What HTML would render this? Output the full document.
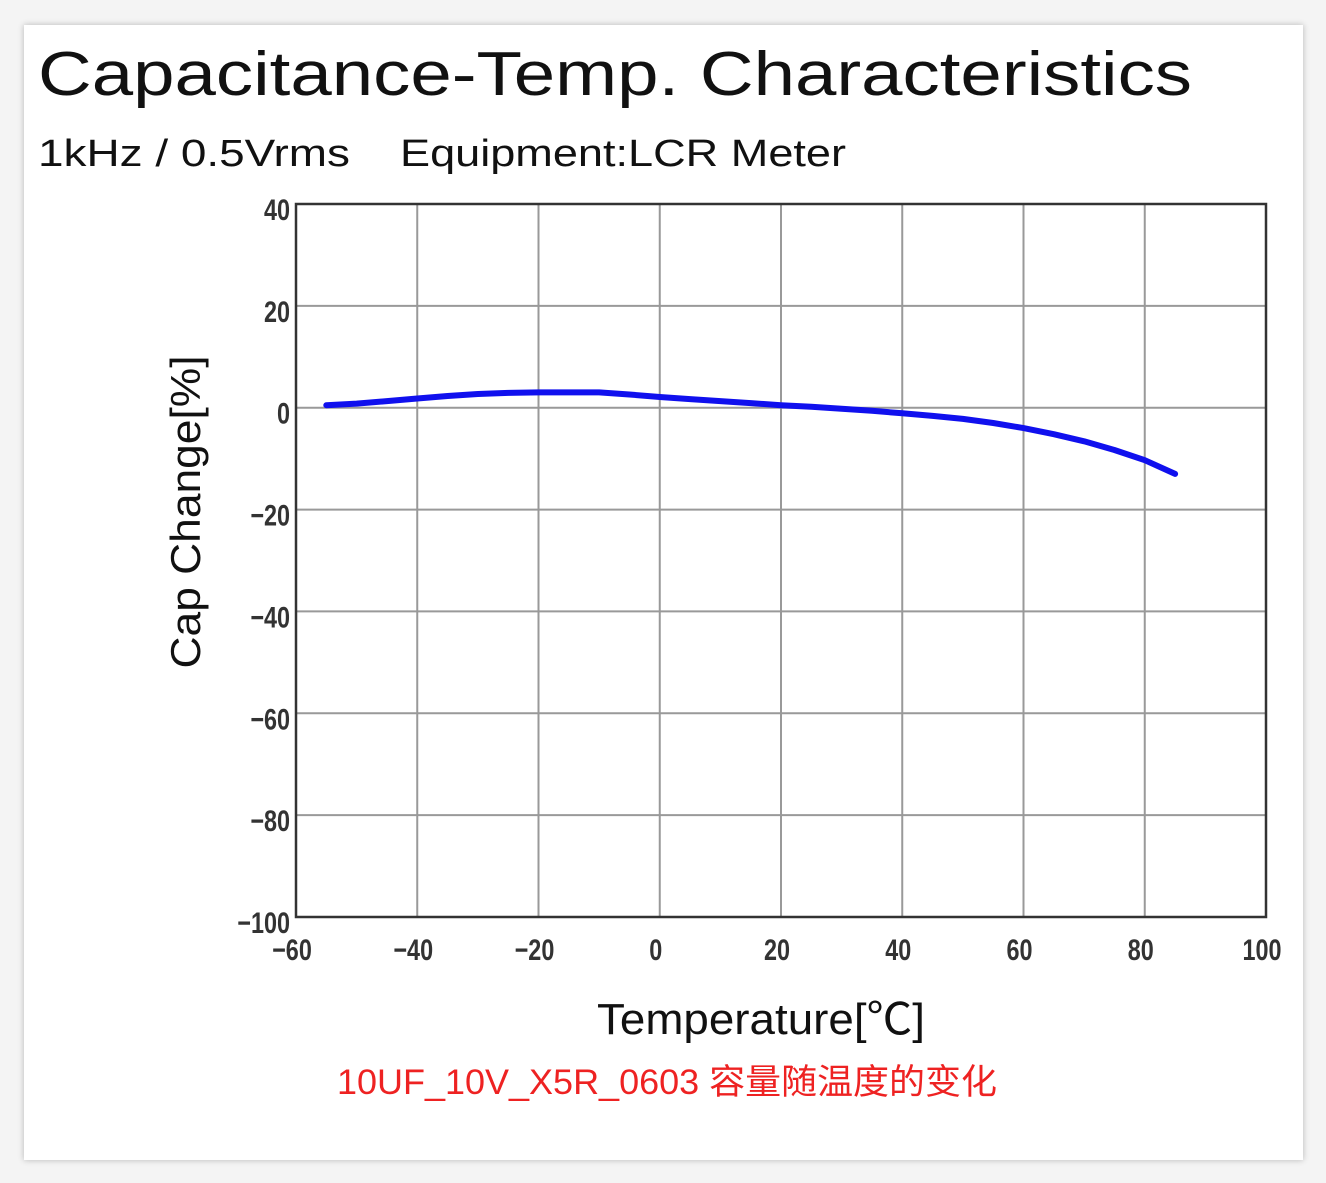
<!DOCTYPE html>
<html><head><meta charset="utf-8"><style>
html,body{margin:0;padding:0;background:#f4f4f4;}
body{width:1326px;height:1183px;position:relative;overflow:hidden;font-family:"Liberation Sans","Noto Sans CJK SC",sans-serif;}
#card{position:absolute;left:24px;top:25px;width:1279px;height:1135px;background:#fff;box-shadow:0 0 6px rgba(0,0,0,0.25);}
</style></head><body>
<div id="card"></div>
<svg id="chart" width="1326" height="1183" style="position:absolute;left:0;top:0">
<text x="38" y="95" font-size="62" fill="#111" textLength="1154" lengthAdjust="spacingAndGlyphs">Capacitance-Temp. Characteristics</text>
<text x="38" y="166" font-size="38" fill="#111" textLength="312" lengthAdjust="spacingAndGlyphs">1kHz / 0.5Vrms</text>
<text x="400" y="166" font-size="38" fill="#111" textLength="446" lengthAdjust="spacingAndGlyphs">Equipment:LCR Meter</text>
<g id="grid"></g>
<g id="ticks"></g>
<path id="curve" fill="none" stroke="#1010ee" stroke-width="6" stroke-linejoin="round" stroke-linecap="round"></path>
<rect x="296" y="204" width="970" height="713" fill="none" stroke="#333" stroke-width="2.5"></rect>
<text transform="translate(200,512) rotate(-90)" text-anchor="middle" font-size="42" fill="#111" textLength="313" lengthAdjust="spacingAndGlyphs">Cap Change[%]</text>
<text x="761" y="1034" text-anchor="middle" font-size="44" fill="#111" textLength="328" lengthAdjust="spacingAndGlyphs">Temperature[℃]</text>
<text x="667" y="1094" text-anchor="middle" font-size="35" fill="#ee2222" textLength="660" lengthAdjust="spacingAndGlyphs">10UF_10V_X5R_0603 容量随温度的变化</text>
</svg>
<script>
const xTicks=[-60,-40,-20,0,20,40,60,80,100];
const yTicks=[40,20,0,-20,-40,-60,-80,-100];
const temps=[-55,-50,-45,-40,-35,-30,-25,-20,-15,-10,-5,0,5,10,15,20,25,30,35,40,45,50,55,60,65,70,75,80,85];
const capChange=[0.5,0.8,1.3,1.8,2.3,2.7,2.9,3.0,3.0,3.0,2.6,2.1,1.7,1.3,0.9,0.5,0.2,-0.2,-0.6,-1.1,-1.6,-2.2,-3.0,-4.0,-5.2,-6.6,-8.3,-10.3,-13.0];
const L=296,R=1266,T=204,B=917;
const sx=v=>L+(v+60)/160*(R-L);
const sy=v=>T+(40-v)/140*(B-T);
const NS="http://www.w3.org/2000/svg";
const grid=document.getElementById('grid'),ticks=document.getElementById('ticks');
xTicks.forEach(v=>{
 const l=document.createElementNS(NS,'line');
 l.setAttribute('x1',sx(v));l.setAttribute('x2',sx(v));l.setAttribute('y1',T);l.setAttribute('y2',B);
 l.setAttribute('stroke','#999');l.setAttribute('stroke-width','2');
 
 
 grid.appendChild(l);
 const t=document.createElementNS(NS,'text');
 t.setAttribute('x',sx(v)-4);t.setAttribute('y',960);t.setAttribute('text-anchor','middle');
 t.setAttribute('font-size','30');t.setAttribute('fill','#333');t.setAttribute('font-weight','bold');
 t.setAttribute('transform','translate('+(sx(v)-4)+',0) scale(0.78,1) translate('+(-(sx(v)-4))+',0)');
 t.textContent=(v<0?'−':'')+Math.abs(v);
 
 
 ticks.appendChild(t);
});
yTicks.forEach(v=>{
 const l=document.createElementNS(NS,'line');
 l.setAttribute('x1',L);l.setAttribute('x2',R);l.setAttribute('y1',sy(v));l.setAttribute('y2',sy(v));
 l.setAttribute('stroke','#999');l.setAttribute('stroke-width','2');
 
 
 grid.appendChild(l);
 const t=document.createElementNS(NS,'text');
 t.setAttribute('x',290);t.setAttribute('y',sy(v)+16);t.setAttribute('text-anchor','end');
 t.setAttribute('font-size','30');t.setAttribute('fill','#333');t.setAttribute('font-weight','bold');
 t.setAttribute('transform','translate(290,0) scale(0.78,1) translate(-290,0)');
 t.textContent=(v<0?'−':'')+Math.abs(v);
 
 
 ticks.appendChild(t);
});
document.getElementById('curve').setAttribute('d',temps.map((t,i)=>(i?'L':'M')+sx(t).toFixed(1)+','+sy(capChange[i]).toFixed(1)).join(' '));
</script>
</body></html>
